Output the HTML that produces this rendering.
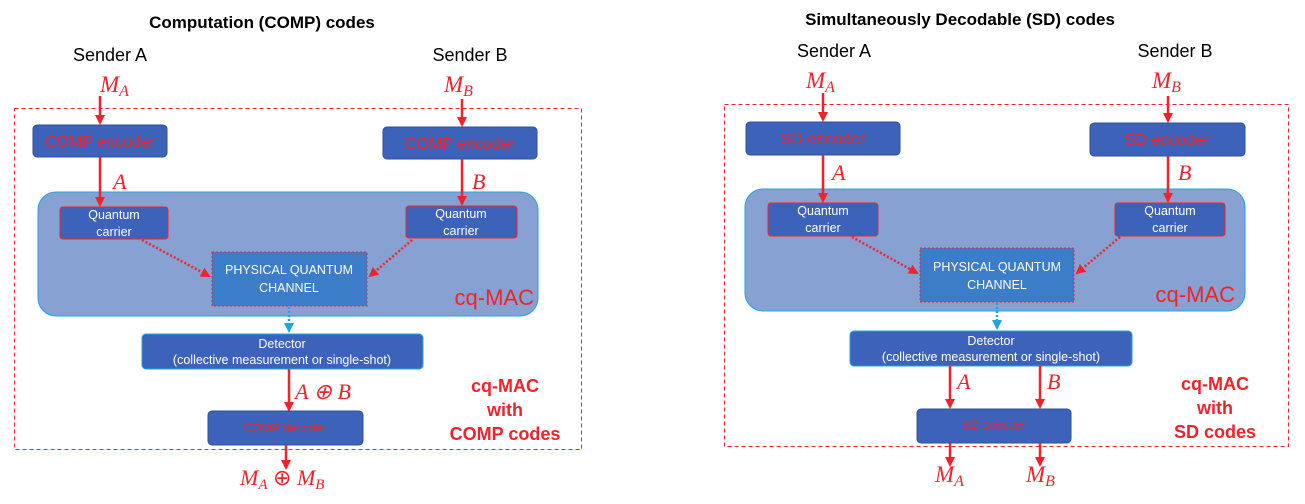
<!DOCTYPE html>
<html><head><meta charset="utf-8"><style>
body{margin:0;background:#fff;}
svg text{font-family:"Liberation Sans",sans-serif;}
.m{font-family:"Liberation Serif",serif;font-style:italic;fill:#f0232a;}
.w{fill:#fff;font-size:12.5px;text-anchor:middle;}
.r{fill:#f0232a;}
</style></head><body>
<svg width="1305" height="499" viewBox="0 0 1305 499" xmlns="http://www.w3.org/2000/svg">
<defs>
<marker id="ar" markerWidth="10" markerHeight="10" refX="8" refY="5" orient="auto" markerUnits="userSpaceOnUse"><path d="M0,0 L10,5 L0,10 z" fill="#f0232a"/></marker>
<marker id="ab" markerWidth="10" markerHeight="10" refX="8" refY="5" orient="auto" markerUnits="userSpaceOnUse"><path d="M0,0 L10,5 L0,10 z" fill="#1fa4e0"/></marker>
</defs>

<!-- LEFT -->
<text x="262" y="28" font-size="17" font-weight="bold" text-anchor="middle">Computation (COMP) codes</text>
<text x="110" y="61" font-size="18" text-anchor="middle">Sender A</text>
<text x="470" y="61" font-size="18" text-anchor="middle">Sender B</text>
<text x="100" y="92" font-size="23" class="m">M<tspan font-size="16" dy="4">A</tspan></text>
<text x="444" y="92" font-size="23" class="m">M<tspan font-size="16" dy="4">B</tspan></text>
<rect x="14.5" y="108.5" width="567" height="341" fill="none" stroke="#f0232a" stroke-dasharray="4,3"/>
<line x1="100" y1="96" x2="100" y2="123" stroke="#f0232a" stroke-width="2.5" marker-end="url(#ar)"/>
<line x1="462" y1="99" x2="462" y2="125" stroke="#f0232a" stroke-width="2.5" marker-end="url(#ar)"/>
<rect x="33" y="125" width="134" height="32" rx="4" fill="#3c63b9" stroke="#2f4f99"/>
<text x="100" y="147" font-size="16" text-anchor="middle" class="r">COMP encoder</text>
<rect x="383" y="127" width="154" height="32" rx="4" fill="#3c63b9" stroke="#2f4f99"/>
<text x="460" y="149" font-size="16" text-anchor="middle" class="r">COMP encoder</text>
<rect x="38" y="192" width="500" height="124" rx="18" fill="#87a1d3" stroke="#1fa4e0"/>
<line x1="100" y1="157" x2="100" y2="205" stroke="#f0232a" stroke-width="2.5" marker-end="url(#ar)"/>
<line x1="462" y1="159" x2="462" y2="204" stroke="#f0232a" stroke-width="2.5" marker-end="url(#ar)"/>
<text x="113" y="189" font-size="22" class="m">A</text>
<text x="472" y="189" font-size="22" class="m">B</text>
<rect x="60" y="207" width="108" height="32" rx="3" fill="#3c63b9" stroke="#f0232a"/>
<text x="114" y="219" class="w">Quantum</text><text x="114" y="236" class="w">carrier</text>
<rect x="406" y="206" width="111" height="32" rx="3" fill="#3c63b9" stroke="#f0232a"/>
<text x="461" y="218" class="w">Quantum</text><text x="461" y="235" class="w">carrier</text>
<rect x="212" y="252" width="155" height="54" fill="#3b7dc8" stroke="#f0232a" stroke-dasharray="2,2"/>
<text x="289" y="274" class="w" font-size="13">PHYSICAL QUANTUM</text><text x="289" y="292" class="w" font-size="13">CHANNEL</text>
<line x1="142" y1="240" x2="209" y2="276" stroke="#f0232a" stroke-width="2.5" stroke-dasharray="2,2" marker-end="url(#ar)"/>
<line x1="412" y1="240" x2="370" y2="276" stroke="#f0232a" stroke-width="2.5" stroke-dasharray="2,2" marker-end="url(#ar)"/>
<text x="534" y="305" font-size="22" text-anchor="end" class="r">cq-MAC</text>
<line x1="289" y1="307" x2="289" y2="331" stroke="#1fa4e0" stroke-width="2.5" stroke-dasharray="2,2" marker-end="url(#ab)"/>
<rect x="142" y="334" width="281" height="35" rx="4" fill="#3c63b9" stroke="#1fa4e0"/>
<text x="282" y="348" class="w" font-size="12.5">Detector</text>
<text x="282" y="364" class="w" font-size="12.5">(collective measurement or single-shot)</text>
<line x1="289" y1="369" x2="289" y2="410" stroke="#f0232a" stroke-width="2.5" marker-end="url(#ar)"/>
<text x="295" y="399" font-size="22" class="m">A ⊕ B</text>
<rect x="208" y="411" width="155" height="34" rx="4" fill="#3c63b9" stroke="#2f4f99"/>
<text x="285" y="432" font-size="12" text-anchor="middle" class="r">COMP decoder</text>
<line x1="286" y1="445" x2="286" y2="468" stroke="#f0232a" stroke-width="2.5" marker-end="url(#ar)"/>
<text x="240" y="485" font-size="22" class="m">M<tspan font-size="15" dy="4">A</tspan><tspan dy="-4" font-style="normal"> ⊕ </tspan>M<tspan font-size="15" dy="4">B</tspan></text>
<g font-size="18" font-weight="bold" text-anchor="middle" class="r">
<text x="505" y="392">cq-MAC</text><text x="505" y="416">with</text><text x="505" y="440">COMP codes</text></g>

<!-- RIGHT -->
<text x="960" y="25" font-size="17" font-weight="bold" text-anchor="middle">Simultaneously Decodable (SD) codes</text>
<text x="834" y="57" font-size="18" text-anchor="middle">Sender A</text>
<text x="1175" y="57" font-size="18" text-anchor="middle">Sender B</text>
<text x="806" y="88" font-size="23" class="m">M<tspan font-size="16" dy="4">A</tspan></text>
<text x="1152" y="88" font-size="23" class="m">M<tspan font-size="16" dy="4">B</tspan></text>
<rect x="724.5" y="104.5" width="564" height="342" fill="none" stroke="#f0232a" stroke-dasharray="4,3"/>
<line x1="823" y1="93" x2="823" y2="120" stroke="#f0232a" stroke-width="2.5" marker-end="url(#ar)"/>
<line x1="1168" y1="96" x2="1168" y2="121" stroke="#f0232a" stroke-width="2.5" marker-end="url(#ar)"/>
<rect x="746" y="122" width="154" height="33" rx="4" fill="#3c63b9" stroke="#2f4f99"/>
<text x="823" y="144" font-size="16" text-anchor="middle" class="r">SD encoder</text>
<rect x="1090" y="123" width="155" height="33" rx="4" fill="#3c63b9" stroke="#2f4f99"/>
<text x="1167" y="145" font-size="16" text-anchor="middle" class="r">SD encoder</text>
<rect x="745" y="189" width="500" height="122" rx="18" fill="#87a1d3" stroke="#1fa4e0"/>
<line x1="823" y1="155" x2="823" y2="201" stroke="#f0232a" stroke-width="2.5" marker-end="url(#ar)"/>
<line x1="1168" y1="156" x2="1168" y2="201" stroke="#f0232a" stroke-width="2.5" marker-end="url(#ar)"/>
<text x="832" y="180" font-size="22" class="m">A</text>
<text x="1178" y="180" font-size="22" class="m">B</text>
<rect x="768" y="203" width="110" height="33" rx="3" fill="#3c63b9" stroke="#f0232a"/>
<text x="823" y="215" class="w">Quantum</text><text x="823" y="232" class="w">carrier</text>
<rect x="1115" y="203" width="110" height="33" rx="3" fill="#3c63b9" stroke="#f0232a"/>
<text x="1170" y="215" class="w">Quantum</text><text x="1170" y="232" class="w">carrier</text>
<rect x="920" y="248" width="154" height="54" fill="#3b7dc8" stroke="#f0232a" stroke-dasharray="2,2"/>
<text x="997" y="271" class="w" font-size="13">PHYSICAL QUANTUM</text><text x="997" y="289" class="w" font-size="13">CHANNEL</text>
<line x1="852" y1="237" x2="917" y2="273" stroke="#f0232a" stroke-width="2.5" stroke-dasharray="2,2" marker-end="url(#ar)"/>
<line x1="1120" y1="237" x2="1077" y2="273" stroke="#f0232a" stroke-width="2.5" stroke-dasharray="2,2" marker-end="url(#ar)"/>
<text x="1235" y="302" font-size="22" text-anchor="end" class="r">cq-MAC</text>
<line x1="997" y1="303" x2="997" y2="328" stroke="#1fa4e0" stroke-width="2.5" stroke-dasharray="2,2" marker-end="url(#ab)"/>
<rect x="850" y="331" width="282" height="35" rx="4" fill="#3c63b9" stroke="#1fa4e0"/>
<text x="991" y="345" class="w" font-size="12.5">Detector</text>
<text x="991" y="361" class="w" font-size="12.5">(collective measurement or single-shot)</text>
<line x1="950" y1="366" x2="950" y2="407" stroke="#f0232a" stroke-width="2.5" marker-end="url(#ar)"/>
<line x1="1040" y1="366" x2="1040" y2="407" stroke="#f0232a" stroke-width="2.5" marker-end="url(#ar)"/>
<text x="957" y="389" font-size="22" class="m">A</text>
<text x="1047" y="389" font-size="22" class="m">B</text>
<rect x="917" y="409" width="154" height="34" rx="4" fill="#3c63b9" stroke="#2f4f99"/>
<text x="994" y="429" font-size="12" text-anchor="middle" class="r">SD decoder</text>
<line x1="950" y1="443" x2="950" y2="465" stroke="#f0232a" stroke-width="2.5" marker-end="url(#ar)"/>
<line x1="1040" y1="443" x2="1040" y2="465" stroke="#f0232a" stroke-width="2.5" marker-end="url(#ar)"/>
<text x="935" y="482" font-size="23" class="m">M<tspan font-size="16" dy="4">A</tspan></text>
<text x="1026" y="482" font-size="23" class="m">M<tspan font-size="16" dy="4">B</tspan></text>
<g font-size="18" font-weight="bold" text-anchor="middle" class="r">
<text x="1215" y="390">cq-MAC</text><text x="1215" y="414">with</text><text x="1215" y="438">SD codes</text></g>
</svg>
</body></html>
